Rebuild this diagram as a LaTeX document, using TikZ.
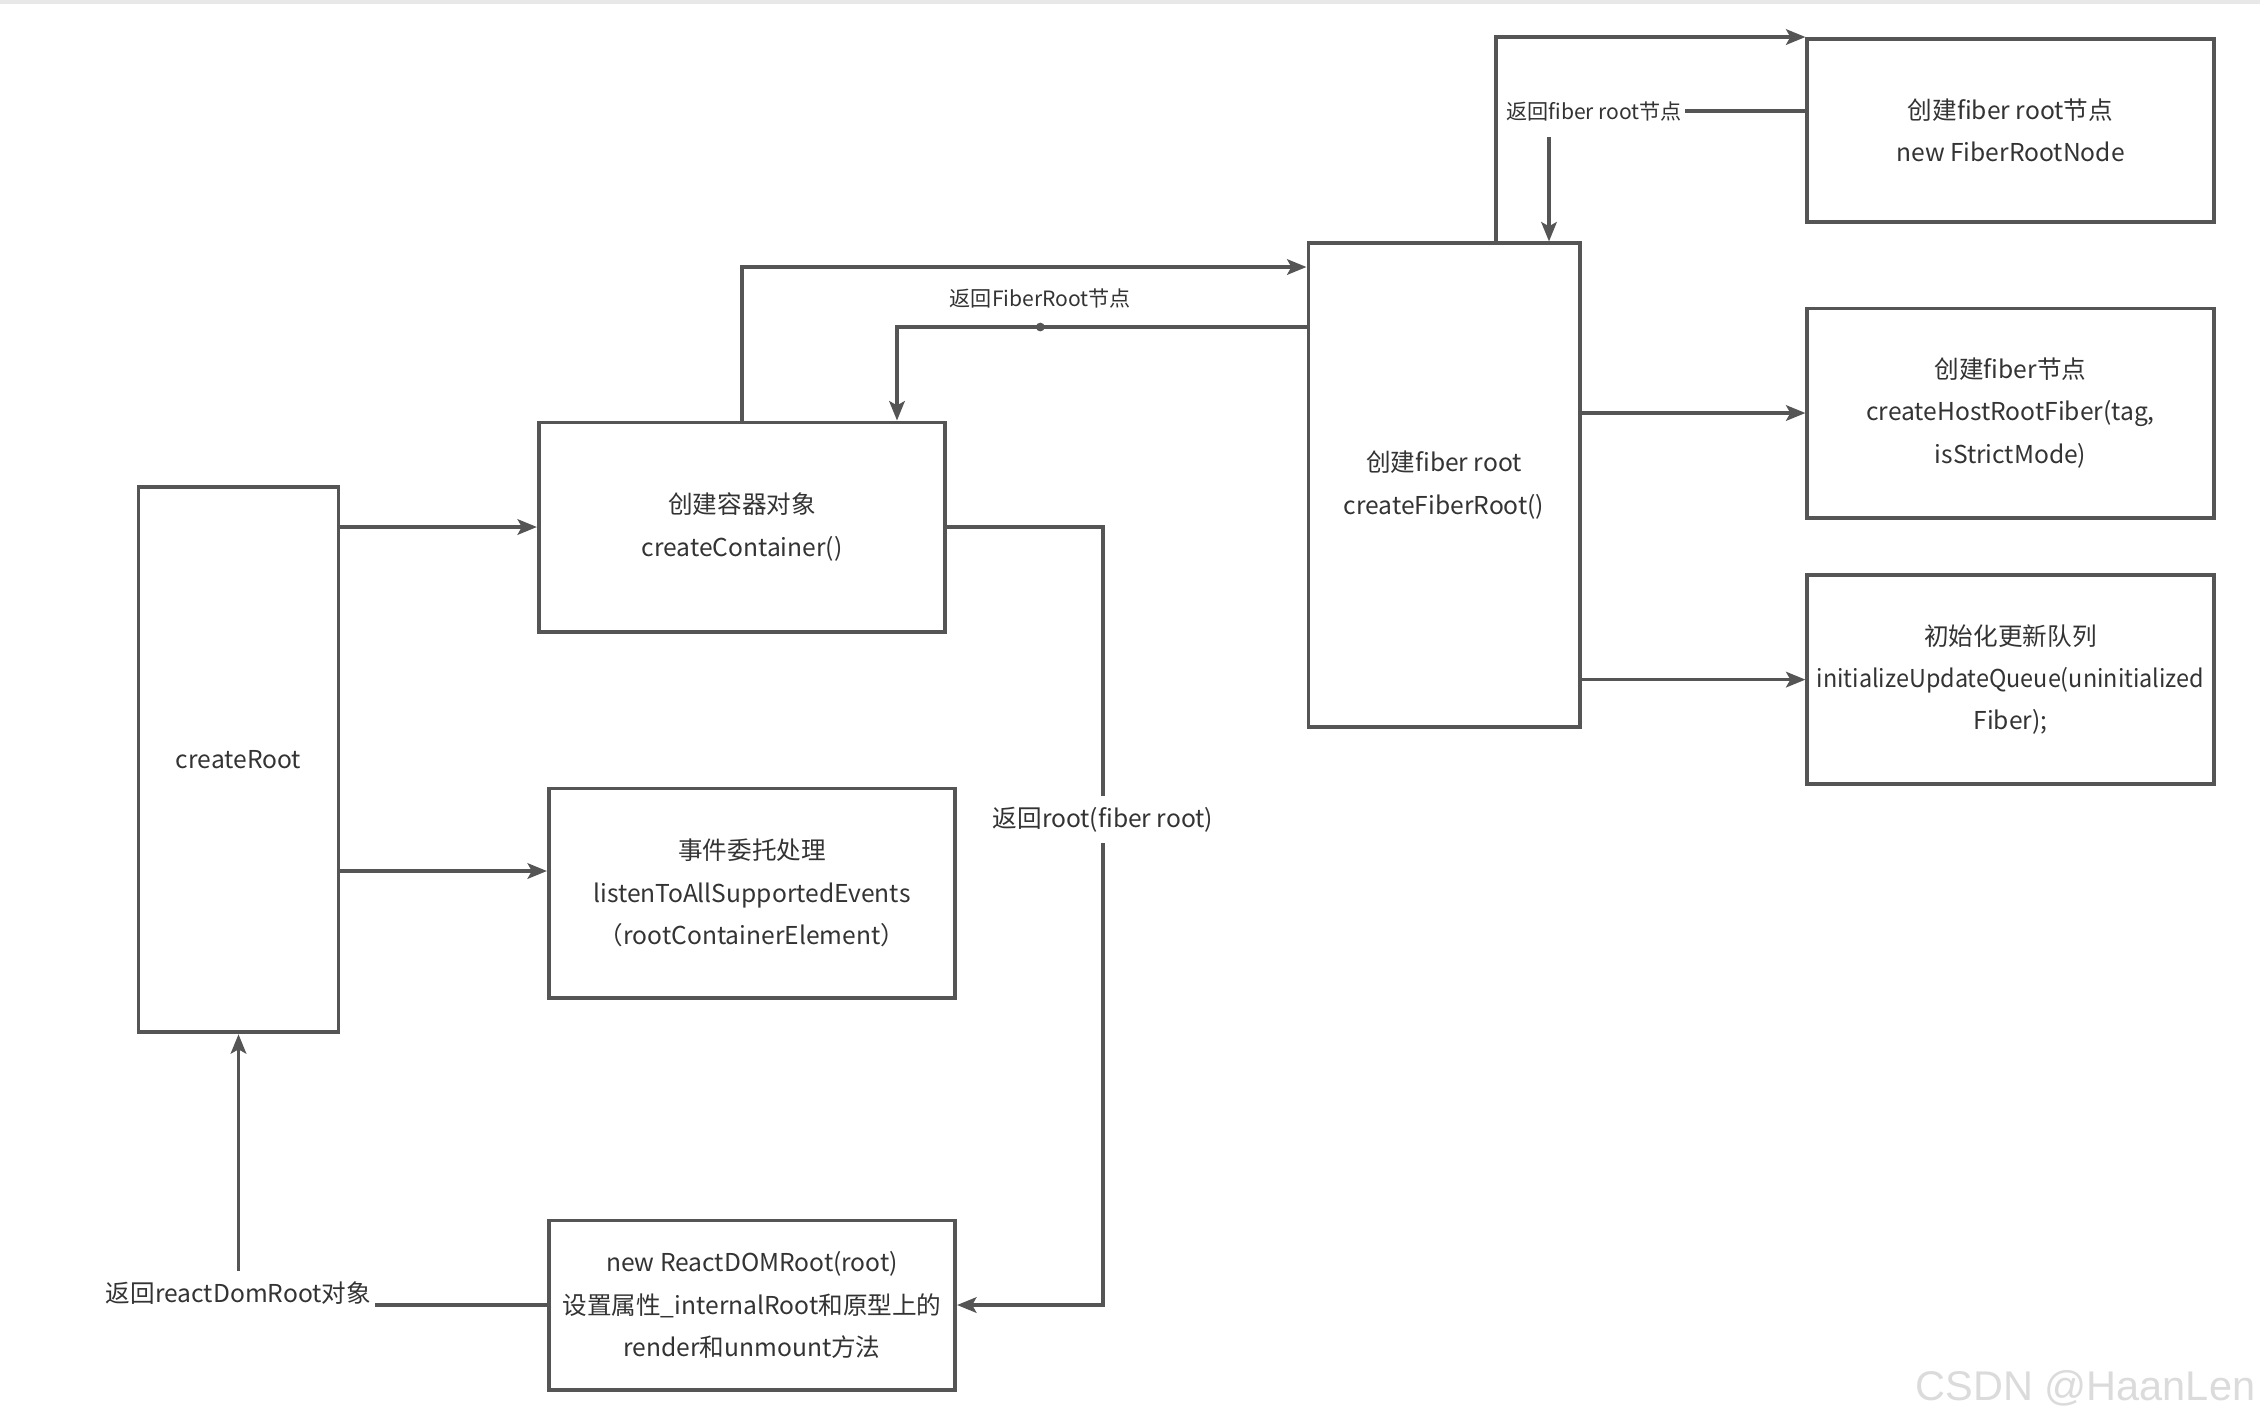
\documentclass[tikz,border=0pt]{standalone}
\usepackage{fontspec}
\setmainfont{Noto Sans CJK SC}
\newfontfamily\wmfont{Liberation Sans}
\usetikzlibrary{arrows.meta}
\definecolor{linegray}{HTML}{555555}
\definecolor{textgray}{HTML}{333333}
\begin{document}
\begin{tikzpicture}[x=0.01cm, y=-0.01cm,
  box/.style={draw=linegray, line width=1.1pt, align=center, text=textgray, font=\fontsize{7}{12}\selectfont, inner sep=0pt},
  line/.style={draw=linegray, line width=1pt, -{Stealth[length=5.5pt,width=4.4pt,inset=1.2pt]}},
  lbl/.style={text=textgray, font=\fontsize{7}{8}\selectfont, fill=white, inner xsep=1pt, inner ysep=3pt},
  small/.style={text=textgray, font=\fontsize{6}{7}\selectfont, inner xsep=1pt, inner ysep=1pt}]
\useasboundingbox (0,0) rectangle (2260,1426);
\fill[black!9] (0,0) rectangle (2260,4);
\node[box, minimum width=2cm, minimum height=5.45cm] (cr) at (238.5,759.6) {createRoot};
\node[box, minimum width=4.06cm, minimum height=2.09cm] (cc) at (742,527) {创建容器对象\\createContainer()};
\node[box, minimum width=4.06cm, minimum height=2.09cm] (ev) at (752,893) {事件委托处理\\listenToAllSupportedEvents\\（rootContainerElement）};
\node[box, minimum width=4.06cm, minimum height=1.69cm] (rd) at (752,1305) {new ReactDOMRoot(root)\\设置属性\_internalRoot和原型上的\\render和unmount方法};
\node[box, minimum width=2.71cm, minimum height=4.83cm] (cfr) at (1444,485) {创建fiber root\\createFiberRoot()};
\node[box, minimum width=4.06cm, minimum height=1.83cm] (frn) at (2010.5,130.5) {创建fiber root节点\\new FiberRootNode};
\node[box, minimum width=4.06cm, minimum height=2.09cm] (fn) at (2010.5,413) {创建fiber节点\\createHostRootFiber(tag,\\isStrictMode)};
\node[box, minimum width=4.06cm, minimum height=2.09cm] (init) at (2010.5,679.6) {初始化更新队列\\\scalebox{0.95}[1]{initializeUpdateQueue(uninitialized}\\Fiber);};
\draw[line] (cr.east |- cc.west) -- (cc.west);
\draw[line] (cr.east |- 0,871) -- (ev.west |- 0,871);
\draw[line] (cc.north) |- (cfr.west |- 0,267);
\draw[line] (cfr.west |- 0,327) -| node[pos=0.325, circle, fill=linegray, inner sep=0pt, minimum size=2.5pt] (dot) {} node[small, pos=0.325, yshift=0.29cm] (l-fr) {返回FiberRoot节点} (cc.north -| 897,0);
\draw[line] (cc.east) -| node[lbl, pos=0.688] (l-root) {返回root(fiber root)} (rd.east -| 1103,0) -- (rd.east);
\draw[line] (rd.west) -| node[lbl, pos=0.5, yshift=0.12cm] (l-dom) {返回reactDomRoot对象} (cr.south);
\draw[line] (cfr.north -| 1496,0) |- (frn.north west);
\draw[line] (frn.west |- 0,111) -| node[small, fill=white, pos=0.5, xshift=0.45cm, inner ysep=4.5pt] (l-frn) {返回fiber root节点} (cfr.north -| 1549,0);
\draw[line] (cfr.east |- fn.west) -- (fn.west);
\draw[line] (cfr.east |- init.west) -- (init.west);
\node[text=black!14, font=\wmfont\fontsize{11.8}{12}\selectfont, anchor=east, inner sep=0pt] (wm) at (2256,1388) {CSDN @HaanLen};
\end{tikzpicture}
\end{document}
